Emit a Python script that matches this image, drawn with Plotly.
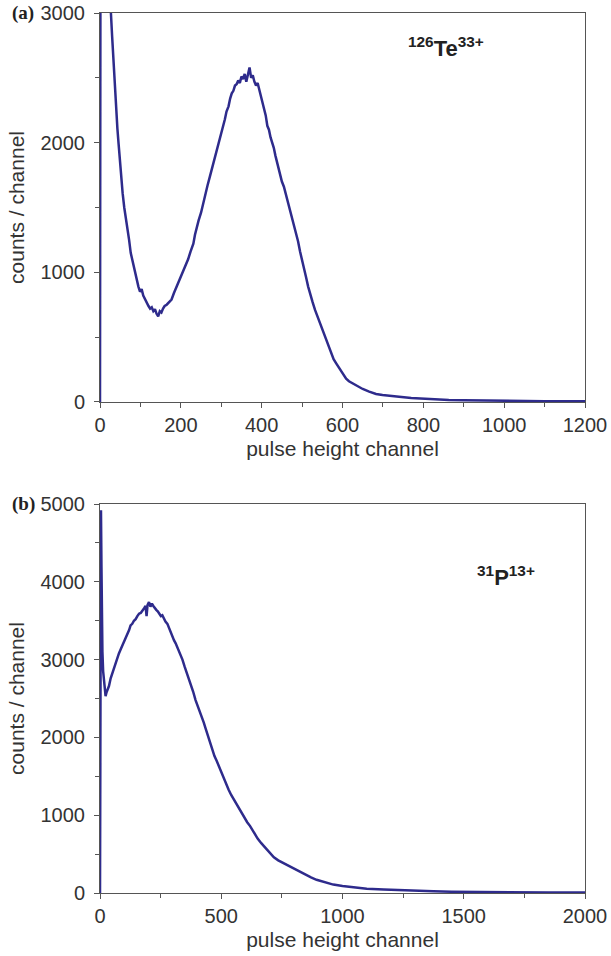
import plotly.graph_objects as go

# Panel (a): 126Te33+ spectrum (pulse height channel, counts/channel)
te_channel = [0, 2, 10, 20, 24, 27, 30, 33, 37, 40, 43, 46, 49, 52, 56, 60, 64, 68, 72, 76,
              80, 84, 87, 91, 95, 99, 103, 107, 110, 113, 117, 120, 124, 128, 132, 136, 140,
              144, 148, 152, 156, 160, 165, 170, 177, 183, 190, 195, 200, 206, 212, 218, 224,
              231, 235, 239, 244, 250, 255, 260, 266, 272, 277, 283, 288, 293, 299, 305, 309,
              313, 318, 322, 326, 330, 334, 338, 342, 346, 350, 354, 358, 362, 366, 370, 374,
              378, 382, 386, 390, 394, 398, 402, 406, 410, 414, 418, 422, 426, 430, 434, 438,
              442, 446, 450, 455, 460, 465, 470, 475, 480, 485, 490, 495, 500, 505, 510, 515,
              520, 526, 532, 538, 544, 550, 556, 561, 566, 572, 578, 584, 590, 596, 602, 609,
              616, 622, 634, 650, 666, 683, 699, 720, 740, 770, 798, 830, 863, 900, 950, 1000,
              1050, 1100, 1150, 1200]
te_counts = [0, 6000, 5200, 4000, 3300, 3000, 2820, 2640, 2380, 2240, 2110, 1990, 1860, 1740,
             1610, 1500, 1420, 1350, 1250, 1150, 1090, 1030, 990, 930, 890, 850, 870, 820, 800,
             790, 760, 740, 720, 730, 700, 715, 680, 660, 700, 690, 720, 740, 750, 770, 790,
             840, 890, 930, 970, 1000, 1050, 1100, 1160, 1220, 1290, 1350, 1400, 1460, 1530,
             1610, 1670, 1740, 1800, 1860, 1930, 1990, 2050, 2120, 2180, 2240, 2280, 2340, 2380,
             2400, 2440, 2450, 2480, 2460, 2510, 2490, 2530, 2470, 2540, 2580, 2500, 2520, 2470,
             2440, 2460, 2410, 2370, 2330, 2270, 2210, 2130, 2100, 2040, 2000, 1960, 1900, 1850,
             1790, 1740, 1700, 1660, 1600, 1540, 1480, 1430, 1360, 1300, 1240, 1160, 1100, 1040,
             960, 890, 830, 770, 710, 660, 610, 560, 500, 460, 420, 380, 330, 300, 270, 240, 210,
             180, 160, 150, 125, 100, 80, 62, 53, 44, 40, 31, 25, 20, 16, 13, 10, 9, 7, 6, 5, 5]

# Panel (b): 31P13+ spectrum
p_channel = [0, 2, 4, 6, 8, 10, 13, 16, 20, 23, 27, 32, 37, 44, 51, 58, 65, 72, 78, 85, 92, 99,
             106, 113, 120, 126, 133, 140, 147, 154, 161, 168, 175, 182, 188, 192, 196, 202, 208,
             214, 220, 226, 232, 238, 245, 251, 257, 264, 270, 278, 285, 292, 299, 305, 312, 319,
             326, 332, 340, 349, 357, 365, 374, 384, 394, 404, 412, 418, 428, 435, 442, 452, 463,
             472, 481, 490, 500, 510, 518, 530, 541, 552, 565, 580, 594, 607, 619, 635, 650, 665,
             676, 687, 700, 717, 735, 756, 775, 793, 810, 825, 845, 870, 893, 930, 962, 1000,
             1031, 1065, 1100, 1170, 1237, 1300, 1375, 1450, 1550, 1650, 1750, 1850, 2000]
p_counts = [0, 4900, 4920, 4200, 3500, 3100, 2850, 2760, 2600, 2530, 2580, 2620, 2660, 2760, 2830,
            2880, 2960, 3020, 3080, 3130, 3180, 3220, 3290, 3340, 3380, 3440, 3460, 3500, 3520,
            3560, 3590, 3600, 3640, 3660, 3690, 3560, 3700, 3740, 3680, 3720, 3690, 3660, 3640,
            3620, 3590, 3560, 3570, 3520, 3490, 3460, 3400, 3350, 3290, 3250, 3210, 3160, 3110,
            3080, 3000, 2910, 2840, 2770, 2690, 2590, 2480, 2400, 2340, 2280, 2190, 2120, 2050,
            1950, 1840, 1760, 1700, 1630, 1560, 1460, 1410, 1330, 1260, 1200, 1120, 1040, 980,
            910, 860, 770, 700, 640, 600, 560, 510, 460, 420, 385, 350, 320, 295, 275, 240, 200,
            170, 135, 108, 90, 77, 66, 56, 44, 34, 27, 21, 16, 12, 9, 7, 6, 5]

te_x_ticks = [0, 200, 400, 600, 800, 1000, 1200]
te_y_ticks = [0, 1000, 2000, 3000]
p_x_ticks = [0, 500, 1000, 1500, 2000]
p_y_ticks = [0, 1000, 2000, 3000, 4000, 5000]

LINE = "#2e2b8c"
AXC = "#555555"
TICKFONT = dict(family="Liberation Sans, Arial, sans-serif", size=20, color="#333333")
TITLEFONT = dict(family="Liberation Sans, Arial, sans-serif", size=21, color="#333333")

fig = go.Figure()
fig.add_trace(go.Scatter(x=te_channel, y=te_counts, mode="lines",
                         line=dict(color=LINE, width=2.5), xaxis="x", yaxis="y",
                         showlegend=False))
fig.add_trace(go.Scatter(x=p_channel, y=p_counts, mode="lines",
                         line=dict(color=LINE, width=2.5), xaxis="x2", yaxis="y2",
                         showlegend=False))

def xax(rng, ticks, minor, anchor):
    return dict(range=rng, tickvals=ticks, ticks="outside", ticklen=5, tickwidth=1,
                tickcolor=AXC, showline=True, linecolor=AXC, linewidth=1, mirror=True,
                showgrid=False, zeroline=False, tickfont=TICKFONT, anchor=anchor,
                automargin=False, ticklabeloverflow="allow",
                minor=dict(dtick=minor, tick0=0, ticks="outside", ticklen=4, tickcolor=AXC),
                title=dict(text="pulse height channel", font=TITLEFONT, standoff=6))

def yax(rng, ticks, minor, domain, anchor):
    return dict(range=rng, tickvals=ticks, ticks="outside", ticklen=5, tickwidth=1,
                tickcolor=AXC, showline=True, linecolor=AXC, linewidth=1, mirror=True,
                showgrid=False, zeroline=False, tickfont=TICKFONT, domain=domain, anchor=anchor,
                automargin=False, ticklabeloverflow="allow", ticklabelstandoff=5,
                minor=dict(dtick=minor, tick0=0, ticks="outside", ticklen=4, tickcolor=AXC),
                title=dict(text="counts / channel", font=TITLEFONT, standoff=10))

fig.update_layout(
    width=611, height=956,
    margin=dict(l=100, r=26, t=13, b=63),
    paper_bgcolor="white", plot_bgcolor="white",
    xaxis=xax([0, 1200], te_x_ticks, 100, "y"),
    yaxis=yax([0, 3000], te_y_ticks, 500, [0.558, 1.0], "x"),
    xaxis2=xax([0, 2000], p_x_ticks, 250, "y2"),
    yaxis2=yax([0, 5000], p_y_ticks, 500, [0.0, 0.442], "x2"),
    annotations=[
        dict(text="<b>(a)</b>", xref="paper", yref="paper", x=-0.185, y=1.0,
             xanchor="left", yanchor="middle", showarrow=False,
             font=dict(family="Liberation Serif, Times New Roman, serif", size=19, color="#222")),
        dict(text="<b>(b)</b>", xref="paper", yref="paper", x=-0.185, y=0.442,
             xanchor="left", yanchor="middle", showarrow=False,
             font=dict(family="Liberation Serif, Times New Roman, serif", size=19, color="#222")),
        dict(text="<b><sup>126</sup>Te<sup>33+</sup></b>", xref="x", yref="y",
             x=855, y=2740, xanchor="center", yanchor="middle", showarrow=False,
             font=dict(family="Liberation Sans, Arial, sans-serif", size=22, color="#222")),
        dict(text="<b><sup>31</sup>P<sup>13+</sup></b>", xref="x2", yref="y2",
             x=1675, y=4075, xanchor="center", yanchor="middle", showarrow=False,
             font=dict(family="Liberation Sans, Arial, sans-serif", size=22, color="#222")),
    ],
)

fig.write_html("out.html", config={"displayModeBar": False},
               post_script="document.body.style.margin='0px';")
